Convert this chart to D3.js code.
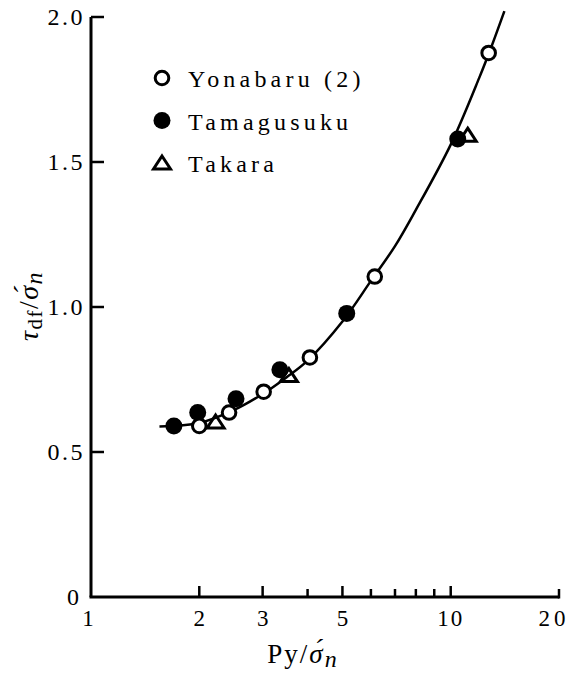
<!DOCTYPE html>
<html>
<head>
<meta charset="utf-8">
<script src="https://cdn.jsdelivr.net/npm/d3@7"></script>
<style>
  html, body { margin: 0; padding: 0; background: #fff; }
  svg { display: block; }
  text { font-family: "Liberation Serif", "Times New Roman", serif; fill: #000; }
</style>
</head>
<body>
<svg id="chart" width="576" height="674"></svg>
<script>
// Py/σ'n (x) and τdf/σ'n (y) for each site
const yonabaruX = [2.0, 2.42, 3.02, 4.06, 6.15, 12.75];
const yonabaruY = [0.59, 0.636, 0.708, 0.826, 1.105, 1.876];
const tamagusukuX = [1.70, 1.98, 2.53, 3.35, 5.14, 10.46];
const tamagusukuY = [0.59, 0.636, 0.684, 0.784, 0.978, 1.579];
const takaraX = [2.22, 3.55, 11.15];
const takaraY = [0.60, 0.76, 1.589];

// fitted curve through the data
const curveX = [1.55, 2.0, 2.5, 3.0, 3.5, 4.0, 5.0, 6.0, 7.0, 8.0, 10.0, 12.0, 13.0, 14.1];
const curveY = [0.588, 0.60, 0.645, 0.70, 0.758, 0.815, 0.95, 1.09, 1.21, 1.335, 1.56, 1.79, 1.90, 2.02];

const xMajorTicks = [2, 3, 5, 10];
const xMinorTicks = [4, 6, 7, 8, 9];
const xLabels = [1, 2, 3, 5, 10, 20];
const yTicks = [0.5, 1.0, 1.5, 2.0];

const legendItems = ["Yonabaru (2)", "Tamagusuku", "Takara"];

const svg = d3.select("#chart");
const x = d3.scaleLog().domain([1, 20]).range([91, 559]);
const y = d3.scaleLinear().domain([0, 2]).range([597, 17]);

const ink = "#000";

// axes frame: left and bottom lines
svg.append("line")
  .attr("x1", x(1)).attr("x2", x(1))
  .attr("y1", y(0)).attr("y2", y(2))
  .attr("stroke", ink).attr("stroke-width", 3);
svg.append("line")
  .attr("x1", x(1) - 1.5).attr("x2", x(20))
  .attr("y1", y(0)).attr("y2", y(0))
  .attr("stroke", ink).attr("stroke-width", 3);

// y ticks pointing inward
svg.selectAll(".ytick").data(yTicks).join("line")
  .attr("x1", x(1)).attr("x2", x(1) + 13)
  .attr("y1", d => y(d)).attr("y2", d => y(d))
  .attr("stroke", ink).attr("stroke-width", 2.5);

// y tick labels
svg.selectAll(".ylab").data([0].concat(yTicks)).join("text")
  .attr("x", d => d === 0 ? x(1) - 12 : x(1) - 6)
  .attr("y", d => y(d))
  .attr("dy", "0.35em")
  .attr("text-anchor", "end")
  .attr("font-size", 24)
  .attr("letter-spacing", d => d === 0 ? 0 : 2.5)
  .text(d => d === 0 ? "0" : d3.format(".1f")(d));

// x ticks pointing up
svg.selectAll(".xmaj").data(xMajorTicks).join("line")
  .attr("x1", d => x(d)).attr("x2", d => x(d))
  .attr("y1", y(0)).attr("y2", y(0) - 11)
  .attr("stroke", ink).attr("stroke-width", 2.5);
svg.selectAll(".xmin").data(xMinorTicks).join("line")
  .attr("x1", d => x(d)).attr("x2", d => x(d))
  .attr("y1", y(0)).attr("y2", y(0) - 8)
  .attr("stroke", ink).attr("stroke-width", 2.5);
svg.append("line")
  .attr("x1", x(20)).attr("x2", x(20))
  .attr("y1", y(0) + 1.5).attr("y2", y(0) - 8)
  .attr("stroke", ink).attr("stroke-width", 2.5);

// x tick labels
svg.selectAll(".xlab").data(xLabels).join("text")
  .attr("x", d => x(d) + (d === 1 ? -3 : (d === 20 ? -5 : 0)))
  .attr("y", 626)
  .attr("text-anchor", "middle")
  .attr("font-size", 23)
  .attr("letter-spacing", d => d === 20 ? 4 : (d === 10 ? 2 : 0))
  .text(d => d);

// x axis title: Py/σ'n
const xt = svg.append("text")
  .attr("x", 303).attr("y", 663)
  .attr("text-anchor", "middle")
  .attr("font-size", 27)
  .attr("letter-spacing", 2);
xt.append("tspan").text("Py/");
xt.append("tspan").attr("font-style", "italic").text("\u03C3\u0301");
xt.append("tspan").attr("font-style", "italic").attr("font-size", 24).attr("dy", 4).text("n");

// y axis title: τdf/σ'n
const yt = svg.append("text")
  .attr("transform", "translate(38,306) rotate(-90)")
  .attr("text-anchor", "middle")
  .attr("font-size", 28)
  .attr("letter-spacing", 1.5);
yt.append("tspan").attr("font-style", "italic").text("\u03C4");
yt.append("tspan").attr("font-size", 21).attr("dy", 4).text("df");
yt.append("tspan").attr("dy", -4).text("/");
yt.append("tspan").attr("font-style", "italic").text("\u03C3\u0301");
yt.append("tspan").attr("font-style", "italic").attr("font-size", 24).attr("dy", 4).text("n");

// fitted curve
const line = d3.line()
  .x(d => x(d[0]))
  .y(d => y(d[1]))
  .curve(d3.curveCatmullRom.alpha(0.5));
svg.append("path")
  .datum(d3.zip(curveX, curveY))
  .attr("d", line)
  .attr("fill", "none")
  .attr("stroke", ink)
  .attr("stroke-width", 2.5);

// marker drawing helpers
const triPath = "M0,-8 L8.5,5 L-8.5,5 Z";

function openCircle(g, cx, cy) {
  g.append("circle").attr("cx", cx).attr("cy", cy).attr("r", 6.8)
    .attr("fill", "#fff").attr("stroke", ink).attr("stroke-width", 3);
}
function filledCircle(g, cx, cy) {
  g.append("circle").attr("cx", cx).attr("cy", cy).attr("r", 8.5)
    .attr("fill", ink);
}
function triangle(g, cx, cy) {
  g.append("path").attr("d", triPath)
    .attr("transform", `translate(${cx},${cy})`)
    .attr("fill", "none").attr("stroke", ink).attr("stroke-width", 3)
    .attr("stroke-linejoin", "miter");
}

const pts = svg.append("g");
d3.zip(takaraX, takaraY).forEach(d => triangle(pts, x(d[0]), y(d[1])));
d3.zip(tamagusukuX, tamagusukuY).forEach(d => filledCircle(pts, x(d[0]), y(d[1])));
d3.zip(yonabaruX, yonabaruY).forEach(d => openCircle(pts, x(d[0]), y(d[1])));

// legend
const legend = svg.append("g");
const legendMarkers = [openCircle, filledCircle, triangle];
legendItems.forEach((label, i) => {
  const cy = 78 + i * 42.5;
  legendMarkers[i](legend, 162, i === 2 ? cy + 1 : cy);
  legend.append("text")
    .attr("x", 188).attr("y", cy + 9)
    .attr("font-size", 24)
    .attr("letter-spacing", 4.2)
    .text(label);
});
</script>
</body>
</html>
